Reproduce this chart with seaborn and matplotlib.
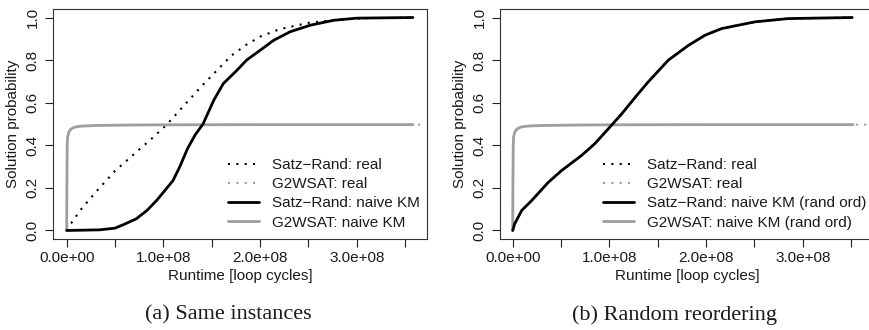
import matplotlib
matplotlib.use("Agg")
import matplotlib.pyplot as plt
import seaborn as sns
import pandas as pd

sns.set_style("ticks")
plt.rcParams['font.family'] = ['Liberation Sans', 'DejaVu Sans']

# ---------------- data ----------------
# (a) Same instances
satz_real_x = [0.0, 0.04e8, 0.15e8, 0.30e8, 0.50e8, 0.70e8, 0.90e8, 1.03e8, 1.20e8, 1.40e8,
               1.55e8, 1.70e8, 1.85e8, 2.00e8, 2.20e8, 2.50e8, 2.80e8, 3.10e8, 3.58e8]
satz_real_y = [0.0, 0.03, 0.10, 0.18, 0.28, 0.36, 0.44, 0.495, 0.58, 0.68,
               0.75, 0.82, 0.87, 0.91, 0.945, 0.975, 0.99, 0.997, 1.0]

satz_km_x = [0.0, 0.34e8, 0.50e8, 0.59e8, 0.72e8, 0.83e8, 0.93e8, 1.03e8, 1.10e8, 1.17e8,
             1.25e8, 1.33e8, 1.41e8, 1.52e8, 1.62e8, 1.76e8, 1.86e8, 2.00e8, 2.14e8, 2.31e8,
             2.52e8, 2.76e8, 3.00e8, 3.58e8]
satz_km_y = [0.0, 0.003, 0.011, 0.028, 0.055, 0.094, 0.141, 0.196, 0.235, 0.30,
             0.385, 0.45, 0.50, 0.611, 0.69, 0.752, 0.80, 0.846, 0.893, 0.933,
             0.964, 0.987, 0.997, 1.0]

g2_x = [0.0, 0.002e8, 0.005e8, 0.01e8, 0.02e8, 0.04e8, 0.08e8, 0.15e8, 0.30e8, 0.60e8,
        1.00e8, 2.00e8, 3.00e8, 3.58e8]
g2_y = [0.0, 0.20, 0.40, 0.44, 0.46, 0.475, 0.485, 0.49, 0.493, 0.495,
        0.496, 0.497, 0.497, 0.497]
g2_real_x = g2_x + [3.67e8]
g2_real_y = g2_y + [0.497]

# (b) Random reordering
satz_rand_x = [0.0, 0.02e8, 0.093e8, 0.197e8, 0.37e8, 0.507e8, 0.714e8, 0.85e8, 0.99e8,
               1.13e8, 1.27e8, 1.40e8, 1.61e8, 1.82e8, 1.99e8, 2.16e8, 2.51e8, 2.85e8, 3.51e8]
satz_rand_y = [0.0, 0.031, 0.094, 0.141, 0.227, 0.282, 0.353, 0.408, 0.478,
               0.549, 0.627, 0.697, 0.80, 0.87, 0.917, 0.948, 0.98, 0.995, 1.0]
satz_rand_real_x = satz_rand_x + [3.58e8]
satz_rand_real_y = satz_rand_y + [1.0]

g2_rand_x = [0.0, 0.002e8, 0.005e8, 0.01e8, 0.02e8, 0.04e8, 0.08e8, 0.15e8, 0.30e8, 0.60e8,
             1.00e8, 2.00e8, 3.00e8, 3.52e8]
g2_rand_y = [0.0, 0.20, 0.40, 0.44, 0.46, 0.475, 0.485, 0.49, 0.493, 0.495,
             0.496, 0.497, 0.497, 0.497]
g2_rand_real_x = g2_x + [3.67e8, 3.76e8]
g2_rand_real_y = g2_y + [0.497, 0.497]

x_ticks = [0.0, 0.5e8, 1.0e8, 1.5e8, 2.0e8, 2.5e8, 3.0e8, 3.5e8]
x_ticklabels = ["0.0e+00", "", "1.0e+08", "", "2.0e+08", "", "3.0e+08", ""]
y_ticks = [0.0, 0.2, 0.4, 0.6, 0.8, 1.0]
y_ticklabels = ["0.0", "0.2", "0.4", "0.6", "0.8", "1.0"]

labels_a = ["Satz\u2212Rand: real", "G2WSAT: real", "Satz\u2212Rand: naive KM", "G2WSAT: naive KM"]
labels_b = ["Satz\u2212Rand: real", "G2WSAT: real", "Satz\u2212Rand: naive KM (rand ord)",
            "G2WSAT: naive KM (rand ord)"]
captions = ["(a) Same instances", "(b) Random reordering"]

BLACK = "#000000"
GRAY = "#9e9e9e"
DOT = (0, (1, 3))

fig = plt.figure(figsize=(8.69, 3.30), dpi=100)
W, H = 869, 330
ax_w = 374.3
ax_h = 230
axA = fig.add_axes([52.7 / W, (330 - 239) / H, ax_w / W, ax_h / H])
axB = fig.add_axes([500 / W, (330 - 239) / H, ax_w / W, ax_h / H])


def draw(ax, series, xlim):
    handles = []
    for (xs, ys, color, ls, lw) in series:
        df = pd.DataFrame({"x": xs, "y": ys})
        sns.lineplot(data=df, x="x", y="y", ax=ax, color=color, linestyle=ls,
                     linewidth=lw, estimator=None, sort=False)
        handles.append(ax.lines[-1])
    ax.set_xlim(*xlim)
    ax.set_ylim(-0.04, 1.04)
    ax.set_xticks(x_ticks)
    ax.set_xticklabels(x_ticklabels)
    ax.set_yticks(y_ticks)
    ax.set_yticklabels(y_ticklabels)
    ax.tick_params(axis='both', labelsize=11, length=5.5, width=0.8, color='#222222',
                   labelcolor='#1a1a1a')
    ax.tick_params(axis='x', pad=3)
    ax.tick_params(axis='y', pad=4, labelrotation=90)
    for t in ax.get_yticklabels():
        t.set_va('center')
    for s in ax.spines.values():
        s.set_visible(True)
        s.set_linewidth(0.8)
        s.set_color('#333333')
    ax.set_xlabel("Runtime [loop cycles]", fontsize=11, color='#1a1a1a', va='center')
    ax.xaxis.set_label_coords(0.5, -0.161)
    ax.set_ylabel("Solution probability", fontsize=11, color='#1a1a1a', va='center')
    ax.yaxis.set_label_coords(-0.106, 0.5)
    return handles


hA = draw(axA, [
    (g2_real_x, g2_real_y, GRAY, DOT, 1.5),
    (satz_real_x, satz_real_y, BLACK, DOT, 1.5),
    (g2_x, g2_y, GRAY, '-', 2.0),
    (satz_km_x, satz_km_y, BLACK, '-', 2.0),
], (-0.1448e8, 3.726e8))

hB = draw(axB, [
    (g2_rand_real_x, g2_rand_real_y, GRAY, DOT, 1.5),
    (satz_rand_real_x, satz_rand_real_y, BLACK, DOT, 1.5),
    (g2_rand_x, g2_rand_y, GRAY, '-', 2.0),
    (satz_rand_x, satz_rand_y, BLACK, '-', 2.0),
], (-0.1315e8, 3.74e8))

for ax, h, labs, x0 in [(axA, hA, labels_a, 228), (axB, hB, labels_b, 603)]:
    order = [h[1], h[0], h[3], h[2]]
    leg = ax.legend(order, labs, loc='upper left',
                    bbox_to_anchor=(x0 / W, (330 - 158) / H),
                    bbox_transform=fig.transFigure, frameon=False, fontsize=11,
                    handlelength=2.0, handletextpad=0.85, labelspacing=0.34,
                    borderpad=0, borderaxespad=0)
    for t in leg.get_texts():
        t.set_color('#1a1a1a')

fig.text(228 / W, 1 - 315 / H, captions[0], ha='center', va='center',
         fontsize=16, family=['Liberation Serif', 'DejaVu Serif'], color='#1a1a1a')
fig.text(675 / W, 1 - 315 / H, captions[1], ha='center', va='center',
         fontsize=16, family=['Liberation Serif', 'DejaVu Serif'], color='#1a1a1a')

fig.savefig("out.png", dpi=100)
